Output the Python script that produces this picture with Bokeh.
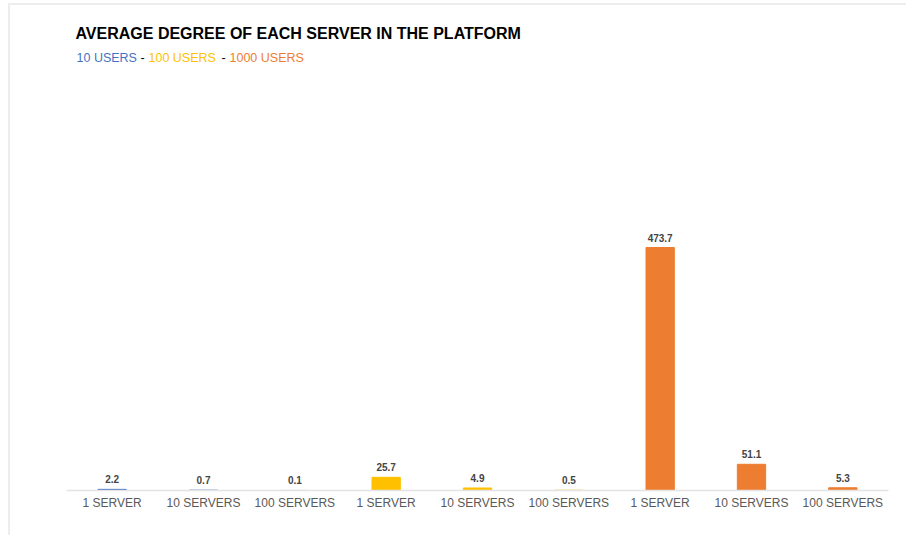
from bokeh.plotting import figure
from bokeh.models import ColumnDataSource, Range1d, FixedTicker, Label, LabelSet
from bokeh.core.properties import value
from bokeh.embed import file_html
from bokeh.resources import INLINE

# ---- data ----
categories = ["1 SERVER", "10 SERVERS", "100 SERVERS",
              "1 SERVER", "10 SERVERS", "100 SERVERS",
              "1 SERVER", "10 SERVERS", "100 SERVERS"]
groups = ["10 USERS", "10 USERS", "10 USERS",
          "100 USERS", "100 USERS", "100 USERS",
          "1000 USERS", "1000 USERS", "1000 USERS"]
values = [2.2, 0.7, 0.1, 25.7, 4.9, 0.5, 473.7, 51.1, 5.3]
group_names = ["10 USERS", "100 USERS", "1000 USERS"]
group_colors = {"10 USERS": "#4472C4", "100 USERS": "#FFC000", "1000 USERS": "#ED7D31"}
title_text = "AVERAGE DEGREE OF EACH SERVER IN THE PLATFORM"

# ---- layout constants ----
W, H = 898, 532
LEFT, RIGHT, TOP, BOTTOM = 56, 20, 0, 47
frame_w = W - LEFT - RIGHT
frame_h = H - TOP - BOTTOM
px_per_y = 243.0 / 473.7
YMAX = frame_h / px_per_y
px_per_x = frame_w / len(categories)

def dx(px):  # pixel offset from frame left -> data x
    return -0.5 + px / px_per_x

def dy(px):  # pixel above baseline -> data y
    return px / px_per_y

xs = list(range(len(categories)))
src = ColumnDataSource(dict(
    x=xs, top=values,
    color=[group_colors[g] for g in groups],
    label=[f"{v:.1f}" for v in values],
))

p = figure(width=W, height=H, output_backend="svg", toolbar_location=None,
           x_range=Range1d(-0.5, len(categories) - 0.5), y_range=Range1d(0, YMAX),
           min_border_left=LEFT, min_border_right=RIGHT,
           min_border_top=TOP, min_border_bottom=BOTTOM,
           margin=(3, 0, 0, 8))
p.styles = {"border-top": "2px solid #ededed", "border-left": "2px solid #ededed"}
p.outline_line_color = None
p.grid.visible = False
p.yaxis.visible = False
p.background_fill_color = "white"
p.border_fill_color = "white"

p.vbar(x="x", top="top", width=0.31, color="color", source=src)

p.add_layout(LabelSet(x="x", y="top", text="label", source=src,
                      text_align="center", text_baseline="bottom", y_offset=6,
                      text_font=value("Liberation Sans"), text_font_size=value("10px"),
                      text_color="#444444", text_font_style="bold"))

ax = p.xaxis[0]
ax.ticker = FixedTicker(ticks=xs)
ax.major_label_overrides = {i: c for i, c in enumerate(categories)}
ax.major_tick_line_color = None
ax.major_tick_out = 0
ax.major_tick_in = 0
ax.minor_tick_line_color = None
ax.minor_tick_out = 0
ax.axis_line_color = "#e3e3e3"
ax.axis_line_width = 1.5
ax.major_label_text_font = "Liberation Sans"
ax.major_label_text_font_size = "12px"
ax.major_label_text_color = "#595959"
ax.major_label_standoff = 5

# title
p.add_layout(Label(x=dx(9), y=dy(457), text=title_text, text_baseline="middle",
                   text_font="Liberation Sans", text_font_size="16px",
                   text_font_style="bold", text_color="#000000"))

# colored subtitle
sub_parts = [(group_names[0], group_colors[group_names[0]], 10),
             ("-", "#000000", 74),
             (group_names[1], group_colors[group_names[1]], 82),
             ("-", "#000000", 155),
             (group_names[2], group_colors[group_names[2]], 163)]
for t, c, xpx in sub_parts:
    p.add_layout(Label(x=dx(xpx), y=dy(433), text=t, text_baseline="middle",
                       text_font="Liberation Sans", text_font_size="12.5px",
                       text_color=c))

open("out.html", "w").write(file_html(p, INLINE))
